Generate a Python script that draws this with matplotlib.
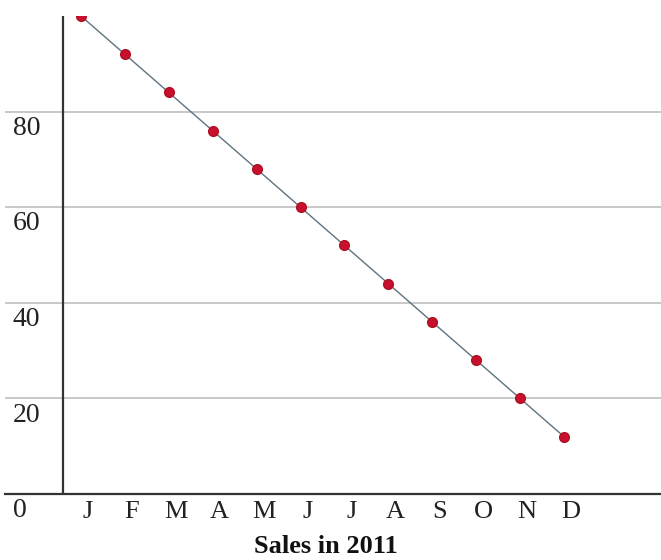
import matplotlib.pyplot as plt
import numpy as np

plt.rcParams['font.family'] = ['Liberation Serif', 'DejaVu Serif']

months = ["J", "F", "M", "A", "M", "J", "J", "A", "S", "O", "N", "D"]
sales = [100, 92, 84, 76, 68, 60, 52, 44, 36, 28, 20, 12]
y_ticks = [0, 20, 40, 60, 80]

W, H = 661, 560
fig = plt.figure(figsize=(W / 100, H / 100), dpi=100)
# axes box in pixels: left 5, right 661, bottom 494, top 16
ax = fig.add_axes([5 / W, (H - 494) / H, (661 - 5) / W, (494 - 16) / H])

x = np.arange(len(months))
ax.plot(x, sales, color="#5f7380", linewidth=1.0, zorder=3)
ax.plot(x, sales, linestyle="none", marker="o", markersize=7,
        color="#c8102e", markeredgecolor="#b01020", zorder=4)

ax.set_xlim(-1.73, 13.21)
ax.set_ylim(0, 100)

# horizontal grid lines
for v in y_ticks[1:]:
    ax.axhline(v, color="#c4c4c4", linewidth=1.3, zorder=1)

# vertical axis drawn inside the box
ax.axvline(-0.41, color="#333333", linewidth=1.6, zorder=2)

for s in ["top", "right", "left"]:
    ax.spines[s].set_visible(False)
ax.spines["bottom"].set_color("#333333")
ax.spines["bottom"].set_linewidth(1.6)

ax.set_yticks([])
for v in y_ticks:
    ax.annotate(str(v), xy=(-1.55, v), xytext=(0, -3), textcoords="offset points",
                ha="left", va="top", fontsize=20, color="#222222")

ax.set_xticks(x + 0.16)
ax.set_xticklabels(months, fontsize=19, color="#222222")
ax.tick_params(axis="x", length=0, pad=5)

ax.set_xlabel("Sales in 2011", fontsize=19, fontweight="bold", color="#111111")
ax.xaxis.set_label_coords((326 - 5) / (661 - 5), -0.085)

fig.savefig("out.png", dpi=100)
